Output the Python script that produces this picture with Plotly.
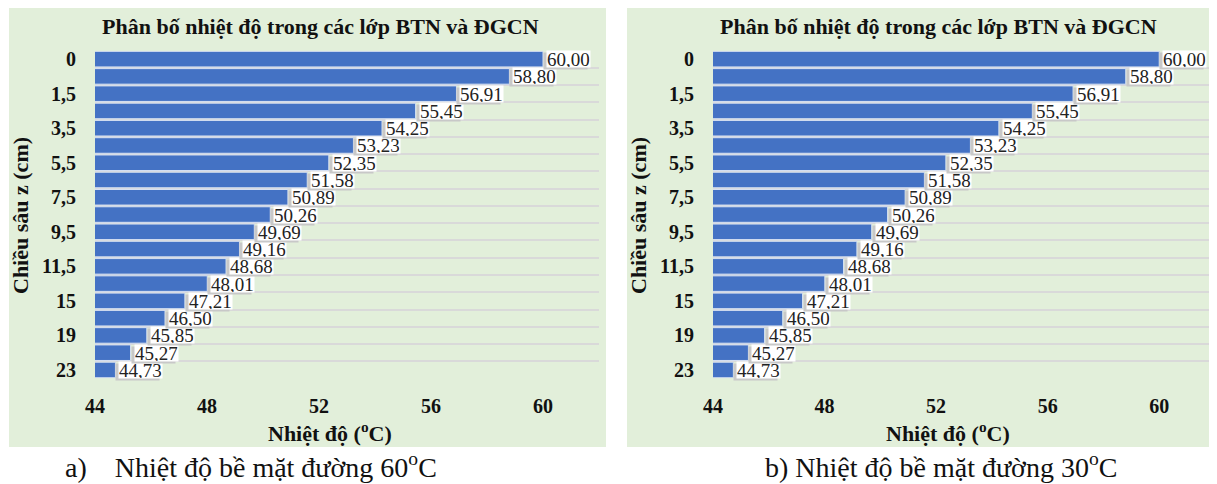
import plotly.graph_objects as go

depth_cats = ["0", "0,5", "1,5", "2,5", "3,5", "4,5", "5,5", "6,5", "7,5", "8,5",
              "9,5", "10,5", "11,5", "13", "15", "17", "19", "21", "23"]
depth_labels = ["0", "", "1,5", "", "3,5", "", "5,5", "", "7,5", "",
                "9,5", "", "11,5", "", "15", "", "19", "", "23"]
temp_60 = [60.00, 58.80, 56.91, 55.45, 54.25, 53.23, 52.35, 51.58, 50.89, 50.26,
           49.69, 49.16, 48.68, 48.01, 47.21, 46.50, 45.85, 45.27, 44.73]
temp_30 = [60.00, 58.80, 56.91, 55.45, 54.25, 53.23, 52.35, 51.58, 50.89, 50.26,
           49.69, 49.16, 48.68, 48.01, 47.21, 46.50, 45.85, 45.27, 44.73]
x_ticks = [44, 48, 52, 56, 60]

chart_title = "Phân bố nhiệt độ trong các lớp BTN và ĐGCN"
x_title = "Nhiệt độ (<sup>o</sup>C)"
y_title = "Chiều sâu z (cm)"
captions = ["a)&nbsp;&nbsp;&nbsp;&nbsp;Nhiệt độ bề mặt đường 60<sup>o</sup>C",
            "b) Nhiệt độ bề mặt đường 30<sup>o</sup>C"]

# page body has an 8px default margin -> figure placed at (8, 8)
OFF = 8
W, H = 1217 - OFF, 484 - OFF
SERIF = "Liberation Serif, Times New Roman, serif"
GREEN = "#E2EFDA"
BLUE = "#4472C4"

def px(x):
    return (x - OFF) / W

def py(y):
    return 1 - (y - OFF) / H

row_idx = list(range(len(depth_cats)))

fig = go.Figure()

panels = [
    dict(vals=temp_60, xa="x", ya="y", xdom=[px(95), px(599)], panel=[9, 606], cap=captions[0],
         capx=251, tx=320, axt=330),
    dict(vals=temp_30, xa="x2", ya="y2", xdom=[px(713), px(1215)], panel=[627, 1217], cap=captions[1],
         capx=941, tx=938, axt=948),
]
ydom = [py(378.6), py(50.5)]

shapes = []
annotations = []
for i, p in enumerate(panels):
    fig.add_trace(go.Bar(
        x=p["vals"], y=row_idx, orientation="h",
        xaxis=p["xa"], yaxis=p["ya"],
        customdata=depth_cats,
        hovertemplate="z = %{customdata} cm<br>%{x:.2f} °C<extra></extra>",
        marker=dict(color=BLUE, line=dict(color="#D6E0F2", width=1)),
        showlegend=False,
    ))
    shapes.append(dict(type="rect", xref="paper", yref="paper", layer="below",
                       x0=px(p["panel"][0]), x1=min(1, px(p["panel"][1])), y0=py(447), y1=py(7),
                       fillcolor=GREEN, line=dict(width=0)))
    # draw lower rows first so upper labels sit on top
    for v, r in reversed(list(zip(p["vals"], row_idx))):
        lbl = f"{v:.2f}".replace(".", ",")
        annotations.append(dict(x=v, y=r, xref=p["xa"], yref=p["ya"], text=lbl,
                                showarrow=False, xanchor="left", yanchor="middle",
                                xshift=0, yshift=-2, height=16,
                                font=dict(family=SERIF, size=19, color="rgba(0,0,0,0)"),
                                bgcolor="#C8C8C8", borderpad=0))
        annotations.append(dict(x=v, y=r, xref=p["xa"], yref=p["ya"], text=lbl,
                                showarrow=False, xanchor="left", yanchor="middle",
                                xshift=3, yshift=0, height=16,
                                font=dict(family=SERIF, size=19, color="#222222"),
                                bgcolor="white", borderpad=0))
    annotations.append(dict(x=px(p["tx"]), y=py(27), xref="paper", yref="paper",
                            text=f"<b>{chart_title}</b>", showarrow=False,
                            font=dict(family=SERIF, size=22, color="#111111"),
                            xanchor="center", yanchor="middle"))
    annotations.append(dict(x=px(p["axt"]), y=py(432), xref="paper", yref="paper",
                            text=f"<b>{x_title}</b>", showarrow=False,
                            font=dict(family=SERIF, size=22, color="#111111"),
                            xanchor="center", yanchor="middle"))
    annotations.append(dict(x=px(p["panel"][0] + 11), y=py(216), xref="paper", yref="paper",
                            text=f"<b>{y_title}</b>", showarrow=False, textangle=-90,
                            font=dict(family=SERIF, size=22, color="#111111"),
                            xanchor="center", yanchor="middle"))
    annotations.append(dict(x=px(p["capx"]), y=py(465), xref="paper", yref="paper",
                            text=p["cap"], showarrow=False,
                            font=dict(family=SERIF, size=28, color="#111111"),
                            xanchor="center", yanchor="middle"))

xaxis_common = dict(range=[44, 62], tickmode="array", tickvals=x_ticks,
                    ticktext=[f"<b>{t}</b>" for t in x_ticks], showgrid=False, zeroline=False,
                    showline=False, ticks="outside", ticklen=9, tickcolor="rgba(0,0,0,0)",
                    automargin=False,
                    tickfont=dict(family=SERIF, size=20, color="#111111"), fixedrange=True)
yaxis_common = dict(type="linear", range=[len(row_idx) - 0.5, -0.5],
                    tickmode="array", tickvals=row_idx,
                    ticktext=[f"<b>{t}</b>" for t in depth_labels],
                    showgrid=False,
                    minor=dict(tick0=0.5, dtick=1, showgrid=True, gridcolor="#D9D9D9",
                               gridwidth=2, ticks=""),
                    ticks="outside", ticklen=14, tickcolor="rgba(0,0,0,0)",
                    showline=False, zeroline=False, automargin=False,
                    tickfont=dict(family=SERIF, size=20, color="#111111"), domain=ydom,
                    fixedrange=True)

fig.update_layout(
    width=W, height=H, autosize=False,
    margin=dict(l=0, r=0, t=0, b=0, autoexpand=False),
    paper_bgcolor="white", plot_bgcolor="white",
    bargap=0.1,
    xaxis=dict(domain=panels[0]["xdom"], anchor="y", **xaxis_common),
    xaxis2=dict(domain=[panels[1]["xdom"][0], min(1, panels[1]["xdom"][1])], anchor="y2", **xaxis_common),
    yaxis=dict(anchor="x", **yaxis_common),
    yaxis2=dict(anchor="x2", **yaxis_common),
    shapes=shapes,
    annotations=annotations,
)

fig.write_html("out.html")
